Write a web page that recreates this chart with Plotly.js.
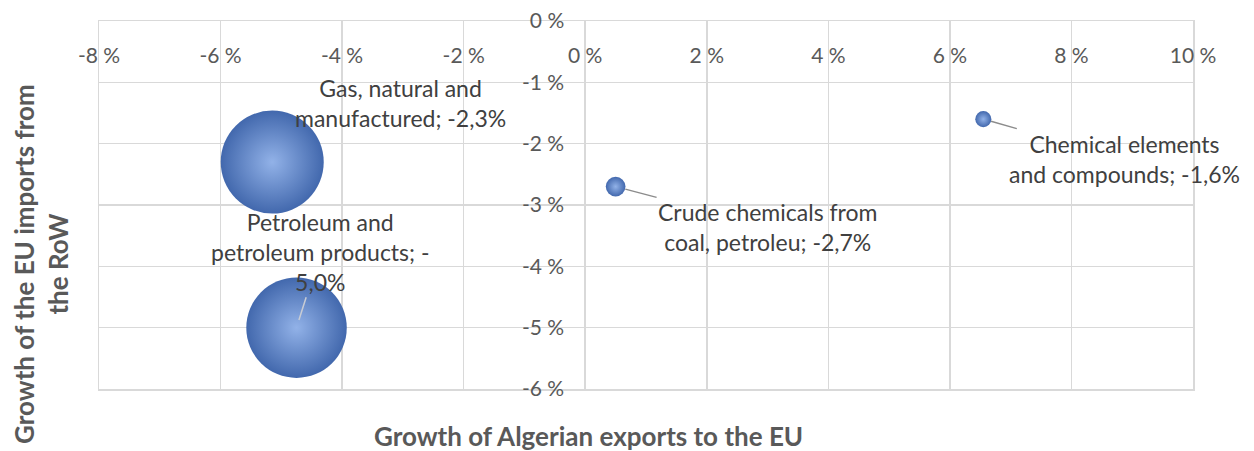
<!DOCTYPE html>
<html>
<head>
<meta charset="utf-8">
<script src="https://cdn.plot.ly/plotly-3.0.1.min.js"></script>
<style>html,body{margin:0;padding:0;background:#fff;}#chart{width:1254px;height:451px;}</style>
</head>
<body>
<div id="chart"></div>
<script>
// ---- data ----
const categories = ["Gas, natural and manufactured", "Petroleum and petroleum products", "Crude chemicals from coal, petroleu", "Chemical elements and compounds"];
const exportGrowth = [-5.15, -4.75, 0.5, 6.55];   // x, %
const importGrowth = [-2.3, -5.0, -2.7, -1.6];    // y, %
const bubbleSize = [41, 39, 1.5, 1.0];            // relative bubble weight
const labelTexts = [
  "Gas, natural and<br>manufactured; -2,3%",
  "Petroleum and<br>petroleum products; -<br>5,0%",
  "Crude chemicals from<br>coal, petroleu; -2,7%",
  "Chemical elements<br>and compounds; -1,6%"
];
const xTickVals = [-8, -6, -4, -2, 0, 2, 4, 6, 8, 10];
const xTickText = ["-8 %", "-6 %", "-4 %", "-2 %", "0 %", "2 %", "4 %", "6 %", "8 %", "10 %"];
const yTickVals = [0, -1, -2, -3, -4, -5, -6];
const yTickText = ["0 %", "-1 %", "-2 %", "-3 %", "-4 %", "-5 %", "-6 %"];
const xTitle = "Growth of Algerian exports to the EU";
const yTitle = "Growth of the EU imports from<br>the RoW";

// ---- label placement (pixel offsets from the bubble) ----
const labelStyle = [
  {ax: 128, ay: -59, arrow: false},
  {ax: 24, ay: -76, arrow: true, color: "#c8ccd4", standoff: 8},
  {ax: 152, ay: 40, arrow: true, color: "#8c8c8c", standoff: 10},
  {ax: 141, ay: 40, arrow: true, color: "#8c8c8c", standoff: 8}
];

const FONT = "Lato, 'Open Sans', sans-serif";
const xRange = [-8, 10];
const yRange = [-6, 0];
const GRID = "#d9d9d9";

const trace = {
  type: "scatter",
  mode: "markers",
  x: exportGrowth,
  y: importGrowth,
  text: categories,
  marker: {
    size: bubbleSize,
    sizemode: "area",
    sizeref: 2 * Math.max(...bubbleSize) / (103 * 103),
    color: "#4268ad",
    gradient: {type: "radial", color: "#92b2e8"},
    line: {width: 0},
    opacity: 1
  },
  hoverinfo: "text"
};

// empty trace on a frame-only axis
const frameTrace = {type: "scatter", mode: "markers", x: [], y: [], yaxis: "y2", hoverinfo: "skip"};

const annotations = categories.map((c, i) => {
  const s = labelStyle[i];
  const a = {
    x: exportGrowth[i], y: importGrowth[i], xref: "x", yref: "y",
    text: labelTexts[i],
    font: {family: FONT, size: 23, color: "#404040"},
    align: "center"
  };
  if (s.arrow) {
    Object.assign(a, {showarrow: true, ax: s.ax, ay: s.ay, arrowhead: 0, arrowwidth: 1.5,
      arrowcolor: s.color, standoff: s.standoff});
  } else {
    Object.assign(a, {showarrow: false, xshift: s.ax, yshift: -s.ay});
  }
  return a;
});

annotations.push({
  xref: "paper", yref: "paper", x: 0.447, y: -0.128, xanchor: "center", yanchor: "middle",
  showarrow: false,
  text: "<b>" + xTitle + "</b>", font: {family: FONT, size: 26, color: "#595959"}
});
annotations.push({
  xref: "paper", yref: "paper", x: -0.053, y: 0.340, xanchor: "center", yanchor: "middle",
  showarrow: false, textangle: -90,
  text: "<b>" + yTitle + "</b>", font: {family: FONT, size: 26, color: "#595959"}
});

const layout = {
  width: 1254, height: 451,
  margin: {l: 99, r: 61, t: 21, b: 62},
  paper_bgcolor: "#ffffff", plot_bgcolor: "#ffffff",
  showlegend: false,
  font: {family: FONT, color: "#595959"},
  xaxis: {
    range: xRange, side: "top", ticklabelposition: "inside", ticklabelstandoff: 29,
    ticklabeloverflow: "allow",
    tickvals: xTickVals, ticktext: xTickText, ticks: "",
    tickfont: {family: FONT, size: 21, color: "#595959"},
    showgrid: true, gridcolor: GRID, gridwidth: 1.5, zeroline: false,
    showline: true, linecolor: GRID, linewidth: 1.5, mirror: true, fixedrange: true
  },
  yaxis: {
    range: yRange, anchor: "free",
    position: (0 - xRange[0]) / (xRange[1] - xRange[0]),
    tickvals: yTickVals, ticktext: yTickText, ticks: "", ticklabelstandoff: 21,
    tickfont: {family: FONT, size: 21, color: "#595959"},
    showgrid: true, gridcolor: GRID, gridwidth: 1.5, zeroline: false,
    showline: false, fixedrange: true
  },
  yaxis2: {
    range: yRange, overlaying: "y", anchor: "x", side: "left",
    showline: true, linecolor: GRID, linewidth: 1.5, mirror: true,
    showgrid: false, zeroline: false, showticklabels: false, ticks: "", fixedrange: true
  },
  annotations: annotations
};

Plotly.newPlot("chart", [frameTrace, trace], layout, {displayModeBar: false, staticPlot: true});
</script>
</body>
</html>
